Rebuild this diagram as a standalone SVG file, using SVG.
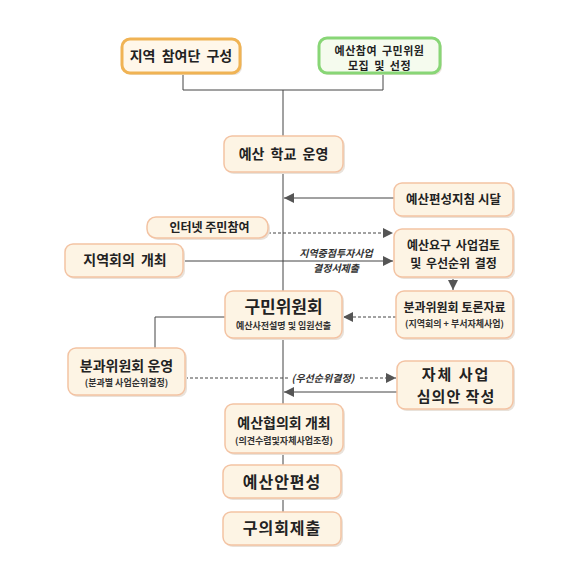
<svg xmlns="http://www.w3.org/2000/svg" width="570" height="579" viewBox="0 0 570 579">
<defs>
<style>
.box{fill:#fdf4e4;stroke:#f3c3a3;stroke-width:1.5}
.sh{fill:#e9e2da}
.t{font-family:"Noto Sans CJK KR","Noto Sans",sans-serif;font-weight:bold;fill:#222;text-anchor:middle}
.s{font-family:"Noto Sans CJK KR","Noto Sans",sans-serif;font-weight:bold;fill:#333;text-anchor:middle;font-size:9px}
.ln{fill:none;stroke:#444;stroke-width:1}
.dl{fill:none;stroke:#444;stroke-width:1;stroke-dasharray:3,2}
.lb{font-family:"Noto Sans CJK KR","Noto Sans",sans-serif;font-weight:bold;font-style:italic;fill:#333;text-anchor:middle;font-size:10px}
</style>
<marker id="ah" markerUnits="userSpaceOnUse" markerWidth="10" markerHeight="10" refX="10" refY="5" orient="auto" viewBox="0 0 10 10">
<path d="M0,0 L10,5 L0,10 z" fill="#555"/>
</marker>
</defs>
<rect x="0" y="0" width="570" height="579" fill="#ffffff"/>
<g id="connectors">
<polyline class="ln" points="183,73 183,90 383,90 383,73"/>
<line class="ln" x1="283" y1="90" x2="283" y2="512"/>
<line class="ln" x1="394" y1="198" x2="284" y2="198" marker-end="url(#ah)"/>
<line class="dl" x1="268" y1="233" x2="393" y2="233" marker-end="url(#ah)"/>
<line class="ln" x1="183" y1="261" x2="393" y2="261" marker-end="url(#ah)"/>
<line class="ln" x1="453" y1="277" x2="453" y2="290" marker-end="url(#ah)"/>
<line class="dl" x1="396" y1="317" x2="343" y2="317" marker-end="url(#ah)"/>
<polyline class="ln" points="225,317 155,317 155,348"/>
<line class="dl" x1="185" y1="378" x2="396" y2="378" marker-end="url(#ah)"/>
<line class="ln" x1="397" y1="392" x2="284" y2="392" marker-end="url(#ah)"/>
<text class="lb" x="336" y="257">지역중점투자사업</text>
<text class="lb" x="336" y="272">결정서제출</text>
<rect x="289" y="371" width="69" height="13" fill="#ffffff"/>
<text class="lb" x="323" y="382">(우선순위결정)</text>
</g>
<g id="n1">
<rect class="sh" x="124" y="41" width="118" height="34" rx="8"/>
<rect x="122" y="39" width="118" height="34" rx="8" fill="#fff7ea" stroke="#f0b354" stroke-width="3"/>
<text class="t" x="181" y="61" font-size="14" word-spacing="3">지역 참여단 구성</text>
</g>
<g id="n2">
<rect class="sh" x="321" y="40" width="121" height="35" rx="8"/>
<rect x="319" y="38" width="121" height="35" rx="8" fill="#f5fbee" stroke="#88d676" stroke-width="3"/>
<text class="t" x="379.5" y="55" font-size="11" letter-spacing="0.5" word-spacing="2">예산참여 구민위원</text>
<text class="t" x="379.5" y="70" font-size="11" letter-spacing="0.5" word-spacing="2">모집 및 선정</text>
</g>
<g id="n3">
<rect class="sh" x="226" y="138" width="119" height="36" rx="8"/>
<rect class="box" x="224" y="136" width="119" height="36" rx="8"/>
<text class="t" x="283.5" y="159" font-size="14" word-spacing="3">예산 학교 운영</text>
</g>
<g id="n4">
<rect class="sh" x="396" y="185" width="119" height="33" rx="8"/>
<rect class="box" x="394" y="183" width="119" height="33" rx="8"/>
<text class="t" x="453.5" y="204" font-size="12.5">예산편성지침 시달</text>
</g>
<g id="n5">
<rect class="sh" x="149" y="219" width="121" height="21" rx="9"/>
<rect class="box" x="147" y="217" width="121" height="21" rx="9"/>
<text class="t" x="209.5" y="232" font-size="12">인터넷 주민참여</text>
</g>
<g id="n6">
<rect class="sh" x="396" y="231" width="119" height="48" rx="8"/>
<rect class="box" x="394" y="229" width="119" height="48" rx="8"/>
<text class="t" x="453.5" y="250" font-size="12" word-spacing="2">예산요구 사업검토</text>
<text class="t" x="453.5" y="268" font-size="12" word-spacing="2">및 우선순위 결정</text>
</g>
<g id="n7">
<rect class="sh" x="67" y="246" width="118" height="33" rx="8"/>
<rect class="box" x="65" y="244" width="118" height="33" rx="8"/>
<text class="t" x="125" y="265" font-size="14" word-spacing="3">지역회의 개최</text>
</g>
<g id="n8">
<rect class="sh" x="227" y="293" width="117" height="47" rx="8"/>
<rect class="box" x="225" y="291" width="117" height="47" rx="8"/>
<text class="t" x="283.5" y="313" font-size="17">구민위원회</text>
<text class="s" x="283.5" y="329">예산사전설명 및 임원선출</text>
</g>
<g id="n9">
<rect class="sh" x="398" y="293" width="117" height="47" rx="8"/>
<rect class="box" x="396" y="291" width="117" height="47" rx="8"/>
<text class="t" x="454.5" y="312" font-size="12">분과위원회 토론자료</text>
<text class="s" x="454.5" y="327">(지역회의 + 부서자체사업)</text>
</g>
<g id="n10">
<rect class="sh" x="70" y="350" width="117" height="47" rx="8"/>
<rect class="box" x="68" y="348" width="117" height="47" rx="8"/>
<text class="t" x="126.5" y="371" font-size="14">분과위원회 운영</text>
<text class="s" x="126.5" y="386">(분과별 사업순위결정)</text>
</g>
<g id="n11">
<rect class="sh" x="399" y="363" width="116" height="48" rx="8"/>
<rect class="box" x="397" y="361" width="116" height="48" rx="8"/>
<text class="t" x="456" y="380" font-size="15" letter-spacing="2">자체 사업</text>
<text class="t" x="456" y="402" font-size="15" letter-spacing="1">심의안 작성</text>
</g>
<g id="n12">
<rect class="sh" x="227" y="406" width="118" height="49" rx="8"/>
<rect class="box" x="225" y="404" width="118" height="49" rx="8"/>
<text class="t" x="284" y="428" font-size="14">예산협의회 개최</text>
<text class="s" x="284" y="444">(의견수렴및자체사업조정)</text>
</g>
<g id="n13">
<rect class="sh" x="225" y="467" width="118" height="33" rx="8"/>
<rect class="box" x="223" y="465" width="118" height="33" rx="8"/>
<text class="t" x="282" y="488" font-size="16" letter-spacing="1">예산안편성</text>
</g>
<g id="n14">
<rect class="sh" x="225" y="514" width="118" height="33" rx="8"/>
<rect class="box" x="223" y="512" width="118" height="33" rx="8"/>
<text class="t" x="282" y="534" font-size="16" letter-spacing="1">구의회제출</text>
</g>
</svg>
